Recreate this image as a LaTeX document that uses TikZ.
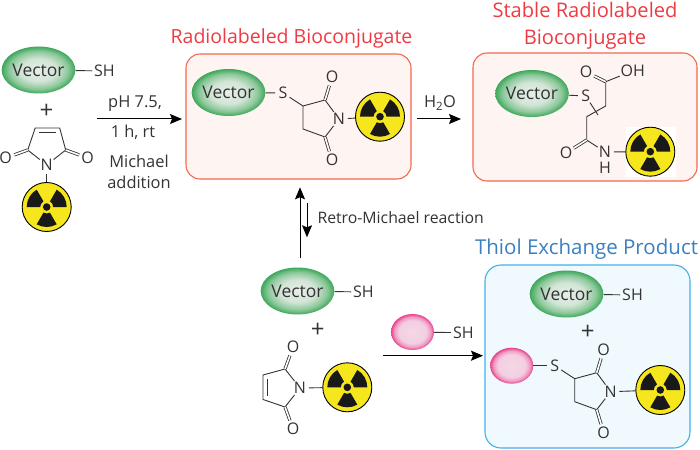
\documentclass[tikz,border=0pt]{standalone}
\usepackage{fontspec}
\setmainfont{Open Sans}
\usetikzlibrary{arrows.meta, shapes.geometric}

\definecolor{bondgrey}{HTML}{333333}
\definecolor{signyellow}{HTML}{F5E61E}
\definecolor{titlered}{HTML}{EE3B43}
\definecolor{titleblue}{HTML}{3A7FC1}
\definecolor{redline}{HTML}{F4694F}
\definecolor{redfill}{HTML}{FEF5F2}
\definecolor{blueline}{HTML}{3FB2E8}
\definecolor{bluefill}{HTML}{F0F9FD}
\definecolor{vecA}{HTML}{E6EEE8}
\definecolor{vecB}{HTML}{D3E5D7}
\definecolor{vecC}{HTML}{8CC89A}
\definecolor{vecD}{HTML}{3DA75A}
\definecolor{pinkA}{HTML}{F4D8E6}
\definecolor{pinkB}{HTML}{F3CFE1}
\definecolor{pinkC}{HTML}{F09CC4}
\definecolor{pinkD}{HTML}{E9418E}
\pgfdeclareradialshading{vecglow}{\pgfpointorigin}{color(0bp)=(vecA); color(12bp)=(vecB); color(20bp)=(vecC); color(25bp)=(vecD); color(50bp)=(vecD)}
\pgfdeclareradialshading{pinkglow}{\pgfpointorigin}{color(0bp)=(pinkA); color(16bp)=(pinkB); color(21bp)=(pinkC); color(25bp)=(pinkD); color(50bp)=(pinkD)}

\tikzset{
	bond/.style={draw=bondgrey, line width=0.9pt},
	dbond/.style={draw=bondgrey, line width=0.8pt, double=white, double distance=1.6pt},
	atom/.style={circle, inner sep=0.2pt, text=bondgrey, font=\fontsize{16}{16}\selectfont},
	vecnode/.style={ellipse, minimum width=73pt, minimum height=47pt, inner sep=0pt, shading=vecglow, text=bondgrey, font=\fontsize{17.5}{17.5}\selectfont},
	pinknode/.style={ellipse, minimum width=43pt, minimum height=36pt, inner sep=0pt, shading=pinkglow},
	label/.style={text=bondgrey, font=\fontsize{16.4}{21}\selectfont, align=center},
	redtitle/.style={text=titlered, font=\fontsize{19.5}{27}\selectfont, align=center},
	redbox/.style={draw=redline, fill=redfill, line width=1.1pt, rounded corners=14pt},
	bluebox/.style={draw=blueline, fill=bluefill, line width=1.1pt, rounded corners=16pt},
	rarrow/.style={->, >={Stealth[length=12pt, width=10pt, inset=2pt]}, draw=black, line width=1pt},
	radsign/.pic={
		\node[circle, draw=black, line width=0.9pt, fill=signyellow, minimum size=49pt, inner sep=0pt] (-disc) at (0,0) {};
		\foreach \a in {30,150,270} {
			\fill[black!90] (\a-30:6.5) -- (\a-30:20) arc[start angle=\a-30, end angle=\a+30, radius=20] -- (\a+30:6.5) arc[start angle=\a+30, end angle=\a-30, radius=6.5] -- cycle;
		}
		\fill[black!90] (0,0) circle (3.8);
	},
	succinimide/.pic={
		\node[atom] (-N) at (0,0) {N};
		\node[atom] (-S) at (-56,26) {S};
		\node[atom] (-Ot) at (-7,42) {O};
		\node[atom] (-Ob) at (-7,-41) {O};
		\coordinate (-Ca) at (-36,13);
		\coordinate (-Cb) at (-14,19);
		\coordinate (-Cc) at (-14,-18);
		\coordinate (-Cd) at (-36,-10);
		\draw[bond] (-S) -- (-Ca) -- (-Cb) -- (-N) -- (-Cc) -- (-Cd) -- (-Ca);
		\draw[dbond] (-Cb) -- (-Ot);
		\draw[dbond] (-Cc) -- (-Ob);
	},
	maleimide/.pic={
		\node[atom] (-N) at (0,0) {N};
		\node[atom] (-Ot) at (-7,41) {O};
		\node[atom] (-Ob) at (-7,-41) {O};
		\coordinate (-Ca) at (-15,19);
		\coordinate (-Cb) at (-37,13);
		\coordinate (-Cc) at (-37,-11.5);
		\coordinate (-Cd) at (-15,-19);
		\coordinate (-Ib) at (-33,9);
		\coordinate (-Ic) at (-33,-7.5);
		\draw[bond] (-N) -- (-Ca) -- (-Cb) -- (-Cc) -- (-Cd) -- (-N);
		\draw[bond] (-Ib) -- (-Ic);
		\draw[dbond] (-Ca) -- (-Ot);
		\draw[dbond] (-Cd) -- (-Ob);
	}
}

\begin{document}
\begin{tikzpicture}[x=1pt, y=1pt]
	\useasboundingbox (0,0) rectangle (700,-449);

	\node[redbox, minimum width=225pt, minimum height=125pt] (boxA) at (298.5,-116.5) {};
	\node[redbox, minimum width=224pt, minimum height=128pt] (boxB) at (585,-117) {};
	\node[bluebox, minimum width=205pt, minimum height=183pt] (boxC) at (587.5,-356.5) {};
	\node[redtitle] (titleA) at (291.5,-38) {Radiolabeled Bioconjugate};
	\node[redtitle, font=\fontsize{20.1}{27}\selectfont] (titleB) at (585,-25.5) {Stable Radiolabeled\\Bioconjugate};
	\node[redtitle, text=titleblue, font=\fontsize{20.5}{27}\selectfont] (titleC) at (586.5,-249) {Thiol Exchange Product};

	\foreach \nm/\px/\py in {vecA/38.5/70, vecD/297.5/291, vecE/566.5/294} {
		\node[vecnode] (\nm) at (\px,-\py) {Vector};
		\node[atom] (\nm sh) at (\px+66,-\py-1) {SH};
		\draw[bond] (\nm) -- (\nm sh);
	}
	\node[vecnode] (vecB) at (228.5,-92.5) {Vector};
	\node[vecnode] (vecC) at (532,-93.5) {Vector};

	\node[pinknode] (pinkA) at (412.5,-332) {};
	\node[atom] (pinkAsh) at (463.3,-332.7) {SH};
	\draw[bond] (pinkA) -- (pinkAsh);
	\node[pinknode] (pinkB) at (511.7,-365.7) {};

	\foreach \px/\py in {46.5/111, 317.7/330.7, 587.7/332.3} {
		\node[label, font=\fontsize{24}{24}\selectfont] (plus\px) at (\px,-\py) {+};
	}

	% reagents on the left
	\pic[rotate=-90] (malA) at (46.7,-165) {maleimide};
	\pic (signA) at (46.7,-207) {radsign};
	\draw[bond] (malA-N) -- (signA-disc);

	% first product
	\pic (sucA) at (339,-119) {succinimide};
	\pic (signB) at (380,-116.7) {radsign};
	\draw[bond] (vecB) -- (sucA-S);
	\draw[bond] (sucA-N) -- (signB-disc);

	% opened ring
	\fill[white] (625.7,-126.7) rectangle (675.7,-176.7);
	\pic (signC) at (650.3,-151.7) {radsign};
	\node[atom] (stS) at (585.7,-96) {S};
	\node[atom] (stOa) at (586,-72) {O};
	\node[atom] (stOH) at (632.7,-71) {OH};
	\node[atom] (stOb) at (566,-153) {O};
	\node[atom] (stN) at (605,-152) {N};
	\node[atom] (stH) at (605,-168) {H};
	\coordinate (stCa) at (605.7,-81.7);
	\coordinate (stCb) at (605.7,-106);
	\coordinate (stCc) at (586.7,-116.7);
	\coordinate (stCd) at (586.7,-140);
	\coordinate (stX) at (598,-115);
	\draw[bond] (vecC) -- (stS);
	\draw[bond] (stS) -- (stX);
	\draw[bond] (stOH) -- (stCa) -- (stCb) -- (stCc) -- (stCd) -- (stN) -- (signC-disc);
	\draw[dbond] (stCa) -- (stOa);
	\draw[dbond] (stCd) -- (stOb);

	% lower middle
	\pic (malB) at (300,-388) {maleimide};
	\pic (signD) at (347.3,-387.3) {radsign};
	\draw[bond] (malB-N) -- (signD-disc);

	% exchange product
	\pic (sucB) at (610.7,-391.7) {succinimide};
	\pic (signE) at (660.3,-390) {radsign};
	\draw[bond] (pinkB) -- (sucB-S);
	\draw[bond] (sucB-N) -- (signE-disc);

	\coordinate (arrAa) at (97,-119);
	\coordinate (arrAb) at (182,-119);
	\coordinate (arrBa) at (417,-119);
	\coordinate (arrBb) at (461,-119);
	\coordinate (arrCa) at (300,-258.3);
	\coordinate (arrCb) at (300,-187.3);
	\coordinate (arrDa) at (307,-202.7);
	\coordinate (arrDb) at (307,-237.3);
	\coordinate (arrEa) at (383.3,-355.7);
	\coordinate (arrEb) at (483,-355.7);
	\foreach \s/\e in {arrAa/arrAb, arrBa/arrBb, arrCa/arrCb, arrDa/arrDb, arrEa/arrEb} {
		\draw[rarrow] (\s) -- (\e);
	}

	\node[label] (condA) at (135,-104) {pH 7.5,};
	\node[label] (condB) at (133,-132) {1 h, rt};
	\node[label] (condC) at (139,-172) {Michael\\addition};
	\node[label] (condD) at (440,-103) {H\textsubscript{2}O};
	\node[label, anchor=west, inner sep=0pt, font=\fontsize{15.8}{20}\selectfont] (condE) at (317.3,-217.7) {Retro-Michael reaction};
\end{tikzpicture}
\end{document}
